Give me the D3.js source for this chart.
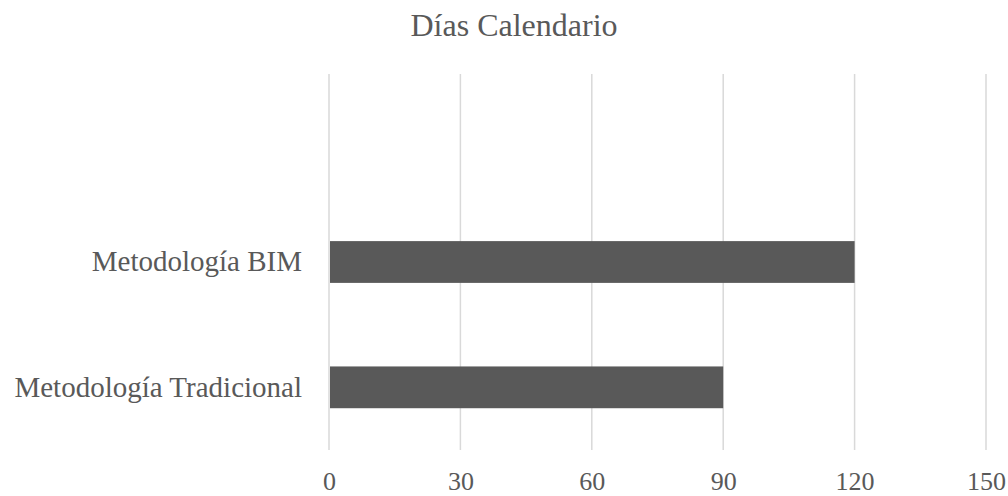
<!DOCTYPE html>
<html>
<head>
<meta charset="utf-8">
<script src="https://cdn.jsdelivr.net/npm/d3@7"></script>
<style>
  html, body { margin: 0; padding: 0; background: #fff; }
  text { font-family: "Liberation Serif", "Times New Roman", serif; fill: #595959; }
</style>
</head>
<body>
<svg id="chart" width="1008" height="496"></svg>
<script>
// Categories from bottom to top; the top slot is an empty category
const categories = ["Metodología Tradicional", "Metodología BIM", ""];
const values = [90, 120, null];
const tickValues = [0, 30, 60, 90, 120, 150];
const title = "Días Calendario";

const svg = d3.select("#chart");
const margin = { top: 74, right: 22, bottom: 46, left: 329 };
const width = 1008, height = 496;
const innerW = width - margin.left - margin.right;
const innerH = height - margin.top - margin.bottom;

const x = d3.scaleLinear().domain([0, 150]).range([0, innerW]);
const y = d3.scaleBand().domain(categories).range([innerH, 0])
  .paddingInner(2 / 3).paddingOuter(1 / 3);

const g = svg.append("g").attr("transform", `translate(${margin.left},${margin.top})`);

// vertical gridlines
g.selectAll("line.grid").data(tickValues).join("line")
  .attr("class", "grid")
  .attr("x1", d => x(d)).attr("x2", d => x(d))
  .attr("y1", 0).attr("y2", innerH)
  .attr("stroke", "#d9d9d9").attr("stroke-width", 1.5);

// bars
const rows = categories.map((c, i) => ({ c, v: values[i] })).filter(d => d.v != null);
g.selectAll("rect.bar").data(rows).join("rect")
  .attr("class", "bar")
  .attr("x", x(0) + 1)
  .attr("y", d => y(d.c))
  .attr("width", d => x(d.v) - x(0) - 1)
  .attr("height", y.bandwidth())
  .attr("fill", "#595959");

// x axis tick labels
const xAxis = d3.axisBottom(x).tickValues(tickValues).tickSize(0).tickPadding(0).tickFormat(d3.format("d"));
const xg = g.append("g").attr("transform", `translate(0,${innerH})`).call(xAxis);
xg.select(".domain").remove();
xg.selectAll("text").attr("dy", null).attr("y", 40)
  .style("font-family", '"Liberation Serif", serif').style("font-size", "26px").attr("fill", "#595959");

// y axis category labels
const yAxis = d3.axisLeft(y).tickSize(0).tickPadding(27);
const yg = g.append("g").call(yAxis);
yg.select(".domain").remove();
yg.selectAll("text")
  .style("font-family", '"Liberation Serif", serif').style("font-size", "29px").attr("fill", "#595959");

// title
svg.append("text")
  .attr("x", 514).attr("y", 36)
  .attr("text-anchor", "middle")
  .style("font-size", "32px")
  .text(title);
</script>
</body>
</html>
